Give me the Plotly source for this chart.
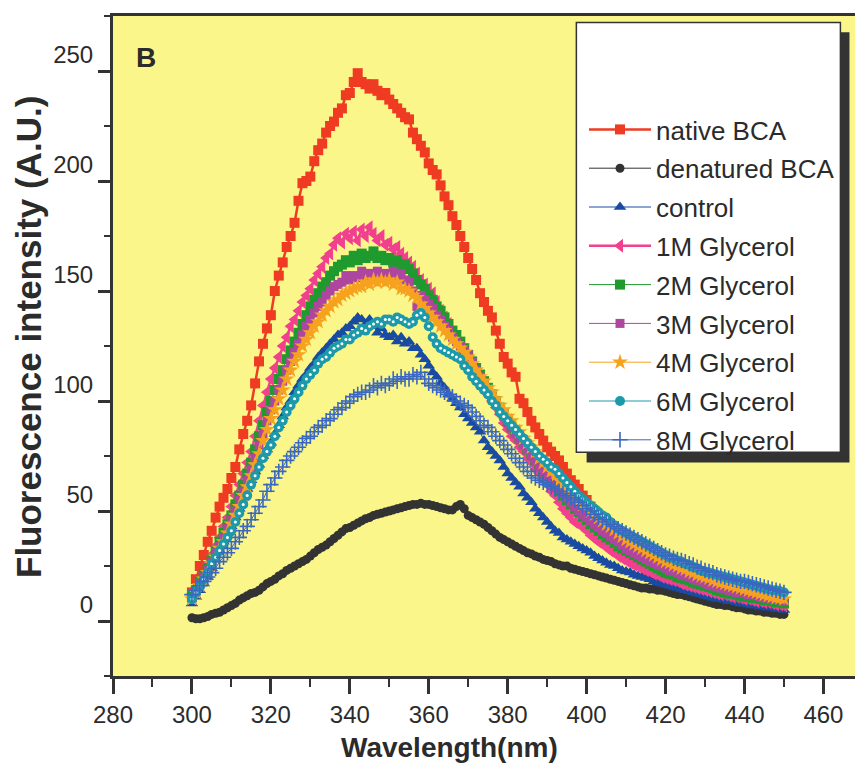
import plotly.graph_objects as go

wavelength = list(range(300, 451))

native_bca = [
    13, 19, 25, 30, 36, 41, 47, 52, 56, 60,
    65, 70, 78, 85, 91, 98, 108, 118, 126, 133,
    139, 150, 157, 163, 170, 175, 181, 191, 199, 200,
    202, 209, 214, 217, 222, 225, 227, 231, 233, 239,
    240, 245, 249, 245, 244, 242, 244, 241, 239, 240,
    237, 235, 233, 231, 229, 228, 222, 219, 216, 213,
    208, 205, 203, 198, 193, 189, 184, 180, 175, 170,
    165, 160, 155, 149, 145, 141, 138, 132, 126, 120,
    117, 113, 111, 101, 99, 95, 91, 88, 85, 82,
    79, 77, 75, 73, 70, 67, 64, 62, 60, 57,
    55, 52, 50, 48, 46, 44, 42, 40, 39, 37,
    36, 34, 33, 31, 30, 29, 28, 27, 26, 25,
    24, 23, 22.5, 21.5, 21, 20, 19.5, 19, 18, 17.5,
    17, 16.5, 16, 15, 14.5, 14, 14, 13.5, 13, 12.5,
    12, 12, 11.5, 11, 10.5, 10, 10, 9.5, 9, 8.5,
    8]

denatured_bca = [
    1.5, 1, 1, 1.5, 2, 3, 3.5, 4, 5, 6,
    7, 8, 9.5, 10.5, 11.5, 12.5, 13, 14, 15.5, 17,
    18, 19, 20.5, 21.5, 23, 24, 25, 26, 27, 28,
    29.5, 31, 32.5, 33.5, 34.5, 36, 37.5, 39, 40.5, 42,
    42.5, 43.5, 44.5, 45.5, 46.5, 47, 48, 48.5, 49, 49.5,
    50, 50.5, 51, 51.5, 52, 52.5, 53, 53, 53.5, 53,
    53, 52.5, 52, 51.5, 51, 50.5, 50.5, 52, 53, 51,
    48, 47, 46, 45, 44, 42.5, 41, 39.5, 38, 37,
    36, 35, 34, 33, 32, 31, 30.5, 29.5, 29, 28,
    27.5, 27, 26, 25.5, 25, 25, 24, 23.5, 23, 22.5,
    22, 21.5, 21, 20.5, 20, 19.5, 19, 18.5, 18, 17.5,
    17, 16.5, 16, 15.5, 15, 15, 14.5, 14.5, 14, 14,
    13.5, 13, 12.5, 12, 12, 11.5, 11, 10.5, 10, 9.5,
    9, 8.5, 8, 7.5, 7.5, 7, 7, 6.5, 6, 6,
    5.5, 5, 5, 4.5, 4.5, 4, 4, 3.5, 3.5, 3,
    3]

control = [
    8, 11, 14, 17, 20, 24, 28, 32, 36, 40,
    43, 47, 51, 56, 60, 64, 68, 71, 75, 78,
    81, 85, 89, 93, 97, 100, 104, 107, 110, 112,
    115, 117, 120, 122, 124, 126, 128, 130, 131, 133,
    134, 136, 138, 137, 135, 137, 134, 131, 133, 130,
    129, 130, 127, 129, 126, 127, 124, 124, 121, 119,
    116, 113, 111, 108, 106, 103, 101, 99, 97, 94,
    92, 90, 88, 86, 82, 79, 77, 75, 73, 70,
    67, 65, 63, 61, 58, 56, 54, 51, 49, 47,
    45, 43, 41, 40, 38, 37, 36, 35, 34, 33,
    32, 31, 29.5, 28.5, 27.5, 26.5, 25.5, 25, 24, 23,
    22.5, 22, 21, 20.5, 20, 19.5, 19, 18, 17.5, 17,
    16.5, 16, 15.5, 15, 14.5, 14, 13.5, 13, 12.5, 12,
    11.5, 11, 10.5, 10, 10, 9.5, 9, 9, 8.5, 8,
    8, 7.5, 7, 7, 6.5, 6.5, 6, 6, 5.5, 5.5,
    5]

glycerol_1m = [
    12, 15, 19, 22, 26, 30, 34, 38, 43, 47,
    52, 57, 62, 67, 72, 77, 84, 91, 98, 104,
    110, 115, 120, 125, 129, 134, 137, 141, 145, 148,
    151, 155, 158, 161, 165, 167, 171, 174, 172, 176,
    174, 177, 173, 178, 175, 179, 176, 173, 175, 171,
    172, 169, 170, 167, 165, 163, 161, 158, 155, 153,
    151, 149, 145, 141, 138, 135, 131, 128, 125, 122,
    119, 116, 112, 109, 106, 103, 100, 97, 94, 90,
    87, 84, 82, 79, 77, 74, 72, 69, 67, 64,
    62, 59, 57, 54, 51, 49, 47, 45, 44, 43,
    41, 39, 37.5, 36, 35, 33.5, 32, 31, 29.5, 28.5,
    27.5, 26.5, 25.5, 25, 24, 23, 22.5, 21.5, 21, 20,
    19.5, 19, 18.5, 18, 17, 16.5, 16, 15.5, 15, 14.5,
    14, 13.5, 13, 12.5, 12, 12, 11.5, 11, 11, 10.5,
    10, 10, 9.5, 9, 9, 8.5, 8.5, 8, 7.5, 7.5,
    7]

glycerol_2m = [
    11, 14, 18, 21, 24, 28, 32, 36, 40, 44,
    48, 53, 57, 62, 67, 72, 78, 84, 89, 95,
    100, 105, 110, 114, 119, 123, 127, 131, 135, 139,
    143, 146, 149, 152, 154, 157, 159, 161, 162, 164,
    163, 166, 164, 167, 165, 166, 168, 165, 166, 164,
    165, 163, 164, 162, 162, 160, 158, 155, 153, 151,
    148, 146, 143, 141, 138, 135, 132, 130, 127, 124,
    121, 118, 115, 112, 109, 106, 103, 100, 97, 94,
    91, 88, 86, 83, 81, 78, 76, 73, 71, 68,
    66, 64, 62, 59, 57, 55, 53, 51, 49.5, 47.5,
    46, 44, 42.5, 41, 39.5, 38, 37, 35.5, 34, 33,
    32, 31, 30, 29, 28, 27, 26, 25, 24, 23,
    22, 21.5, 21, 20, 19.5, 19, 18.5, 17.5, 17, 16.5,
    16, 15.5, 15, 14, 13.5, 13, 12.5, 12.5, 12, 11.5,
    11, 11, 10.5, 10.5, 10, 9.5, 9.5, 9, 8.5, 8.5,
    8]

glycerol_3m = [
    10, 13, 17, 20, 23, 27, 31, 34, 38, 42,
    46, 50, 55, 59, 64, 69, 74, 80, 85, 91,
    96, 100, 105, 109, 114, 118, 122, 126, 130, 134,
    137, 140, 143, 145, 148, 150, 152, 153, 154, 157,
    155, 157, 156, 159, 157, 158, 156, 159, 157, 158,
    157, 159, 156, 158, 155, 154, 150, 143, 148, 146,
    144, 142, 139, 137, 134, 132, 129, 127, 125, 123,
    121, 118, 114, 111, 108, 105, 102, 99, 96, 93,
    90, 88, 85, 83, 80, 78, 75, 73, 70, 68,
    66, 64, 62, 60, 58, 56, 54, 52, 50, 48.5,
    47, 45.5, 44, 42.5, 41, 40, 38.5, 37, 36, 34.5,
    33, 32, 31, 30, 29, 28, 27, 26.5, 25.5, 25,
    24, 23, 22.5, 22, 21, 20.5, 20, 19, 18.5, 18,
    17, 16.5, 16, 15.5, 15, 14.5, 14, 13.5, 13, 13,
    12.5, 12, 12, 11.5, 11, 10.5, 10.5, 10, 10, 9.5,
    9]

glycerol_4m = [
    10, 13, 16, 19, 22, 26, 29, 33, 36, 40,
    44, 48, 52, 57, 61, 66, 71, 76, 82, 87,
    92, 96, 101, 105, 110, 114, 118, 121, 125, 128,
    131, 134, 136, 139, 141, 143, 145, 146, 148, 149,
    150, 151, 152, 152, 154, 153, 155, 154, 155, 154,
    155, 153, 154, 151, 151, 150, 148, 147, 144, 142,
    140, 138, 136, 134, 132, 130, 128, 126, 124, 122,
    120, 117, 114, 111, 109, 106, 104, 101, 98, 96,
    93, 91, 88, 86, 83, 81, 79, 77, 74, 72,
    70, 68, 66, 64, 62, 60, 58, 56.5, 55, 53,
    52, 50, 48.5, 47, 45.5, 44, 43, 41.5, 40, 38.5,
    37, 36, 35, 34, 33, 32, 31, 30, 29, 28,
    27, 26.5, 25.5, 25, 24, 23.5, 22.5, 22, 21, 20.5,
    20, 19.5, 18.5, 18, 17.5, 17, 16.5, 16, 15.5, 15,
    14.5, 14, 13.5, 13, 12.5, 12, 11.5, 11, 10.5, 10.5,
    10]

glycerol_6m = [
    10, 13, 16, 19, 22, 26, 29, 32, 35, 38,
    41, 45, 49, 53, 57, 62, 66, 70, 74, 77,
    80, 84, 88, 91, 95, 98, 101, 104, 107, 110,
    112, 114, 117, 119, 120, 122, 124, 125, 126, 128,
    128, 130, 131, 133, 132, 134, 135, 136, 135, 137,
    137, 136, 138, 137, 136, 135, 136, 139, 140, 138,
    134, 129, 126, 124, 123, 122, 121, 120, 119, 116,
    114, 111, 109, 107, 105, 103, 100, 98, 95, 93,
    91, 89, 87, 85, 83, 81, 79, 77, 75, 73.5,
    72, 70, 69, 67, 65, 63, 61, 59, 57, 55.5,
    54, 52.5, 51, 49.5, 48, 47, 45, 43.5, 42, 41,
    40, 39, 38, 37, 36, 35, 34, 33, 32, 31,
    30, 29, 28.5, 27.5, 27, 26, 25.5, 24.5, 24, 23,
    22.5, 22, 21.5, 21, 20.5, 20, 19.5, 19, 18.5, 18,
    17.5, 17, 16.5, 16, 15.5, 15, 14.5, 14, 14, 13.5,
    13]

glycerol_8m = [
    12, 14, 16, 18, 20, 22, 24, 27, 29, 31,
    33, 36, 38, 41, 43, 46, 49, 52, 55, 59,
    62, 65, 68, 70, 73, 75, 77, 79, 81, 83,
    84, 86, 88, 89, 91, 92, 94, 96, 97, 99,
    100, 102, 103, 104, 104, 105, 107, 106, 108, 107,
    108, 110, 109, 111, 110, 110, 112, 111, 113, 110,
    108, 107, 106, 105, 104, 103, 102, 100, 99, 98,
    97, 95, 93, 91, 89, 88, 86, 84, 82, 80,
    78, 76, 74, 72, 70, 68, 66, 65, 64, 63,
    62, 61, 60, 59, 58, 57, 56, 55, 54, 52.5,
    51, 50, 48.5, 47, 46, 45, 44, 43, 42, 41,
    40, 39, 38, 37, 36, 35, 34, 33, 32, 31,
    30, 29.5, 28.5, 28, 27.5, 27, 26, 25.5, 24.5, 24,
    23, 22.5, 22, 21, 20.5, 20, 19.5, 19, 18.5, 18,
    18, 17.5, 17, 16.5, 16, 15.5, 15, 14.5, 14, 13.5,
    13]

series_names = ["native BCA", "denatured BCA", "control", "1M Glycerol",
                "2M Glycerol", "3M Glycerol", "4M Glycerol", "6M Glycerol",
                "8M Glycerol"]
series_values = [native_bca, denatured_bca, control, glycerol_1m, glycerol_2m,
                 glycerol_3m, glycerol_4m, glycerol_6m, glycerol_8m]

styles = [
    dict(color="#EE3B22", symbol="square", size=10, lw=2.5),
    dict(color="#333333", symbol="circle", size=9, lw=1),
    dict(color="#1A4BA3", symbol="triangle-up", size=11, lw=1),
    dict(color="#F0408E", symbol="triangle-left", size=12, lw=2.5),
    dict(color="#1E9A2E", symbol="square", size=10, lw=1),
    dict(color="#AE46A0", symbol="square", size=9, lw=1),
    dict(color="#F7A21E", symbol="star", size=12, lw=1),
    dict(color="#1C9AAA", symbol="circle", size=10, lw=1),
    dict(color="#3A68C0", symbol="cross-thin-open", size=11, lw=1),
]

fig = go.Figure()
for name, vals, st in zip(series_names, series_values, styles):
    marker = dict(symbol=st["symbol"], size=st["size"], color=st["color"])
    if st["symbol"].endswith("open"):
        marker["line"] = dict(color=st["color"], width=1.6)
    fig.add_trace(go.Scatter(
        x=wavelength, y=vals, name=name, mode="lines+markers",
        line=dict(color=st["color"], width=st["lw"]),
        marker=marker, legendgroup=name))
    if name == "6M Glycerol":
        fig.add_trace(go.Scatter(
            x=wavelength, y=vals, mode="markers", showlegend=False,
            marker=dict(symbol="circle", size=3, color="white"),
            hoverinfo="skip"))

text_color = "#2b2b2b"
font_family = "Liberation Sans, Arial, sans-serif"

# legend box with drop shadow
fig.add_shape(type="rect", xref="x", yref="y", x0=400.0, x1=466.6, y0=72.1, y1=267.6,
              fillcolor="#333333", line=dict(width=0), layer="above")
fig.add_shape(type="rect", xref="x", yref="y", x0=397.4, x1=464.3, y0=76.7, y1=272.1,
              fillcolor="white", line=dict(color="#333333", width=1.5), layer="above")

fig.add_annotation(x=285.3, y=256, xref="x", yref="y", text="<b>B</b>", showarrow=False,
                   xanchor="left", yanchor="middle",
                   font=dict(size=28, color=text_color, family=font_family))

# axis titles placed as in the reference
fig.add_annotation(x=365.3, y=-0.109, xref="x", yref="paper",
                   text="<b>Wavelength(nm)</b>", showarrow=False,
                   xanchor="center", yanchor="middle",
                   font=dict(size=28, color=text_color, family=font_family))
fig.add_annotation(x=-0.1146, y=0.5136, xref="paper", yref="paper",
                   text="<b>Fluorescence intensity (A.U.)</b>", showarrow=False,
                   textangle=-90, xanchor="center", yanchor="middle",
                   font=dict(size=35, color=text_color, family=font_family))

fig.update_layout(
    width=855, height=765,
    margin=dict(l=113, r=0, t=16, b=89),
    paper_bgcolor="white", plot_bgcolor="#FBF68A",
    font=dict(family=font_family, color=text_color),
    showlegend=True,
    legend=dict(x=(584 - 113) / 742, y=(676 - 106) / 660, xanchor="left", yanchor="top",
                bgcolor="rgba(0,0,0,0)", borderwidth=0, traceorder="grouped",
                tracegroupgap=2, itemwidth=62,
                font=dict(size=26, color=text_color, family=font_family)),
)
fig.update_xaxes(range=[280, 468], tickmode="array", tickvals=list(range(280, 461, 20)),
                 ticks="outside", ticklen=15, tickwidth=2.5, tickcolor="#333333",
                 minor=dict(ticks="outside", ticklen=8, tickwidth=2, tickcolor="#333333",
                            tickvals=list(range(290, 461, 20))),
                 showline=True, linewidth=3, linecolor="#333333", mirror=True,
                 showgrid=False, zeroline=False,
                 tickfont=dict(size=24, color=text_color))
fig.update_yaxes(range=[-25, 275], tickmode="array", tickvals=[0, 50, 100, 150, 200, 250],
                 ticks="outside", ticklen=12, tickwidth=2.5, tickcolor="#333333",
                 minor=dict(ticks="outside", ticklen=6, tickwidth=2, tickcolor="#333333",
                            tickvals=[-25, 25, 75, 125, 175, 225, 275]),
                 showline=True, linewidth=3, linecolor="#333333", mirror=False,
                 showgrid=False, zeroline=False,
                 tickfont=dict(size=24, color=text_color), ticklabelshift=-16)

fig.write_html("out.html")
